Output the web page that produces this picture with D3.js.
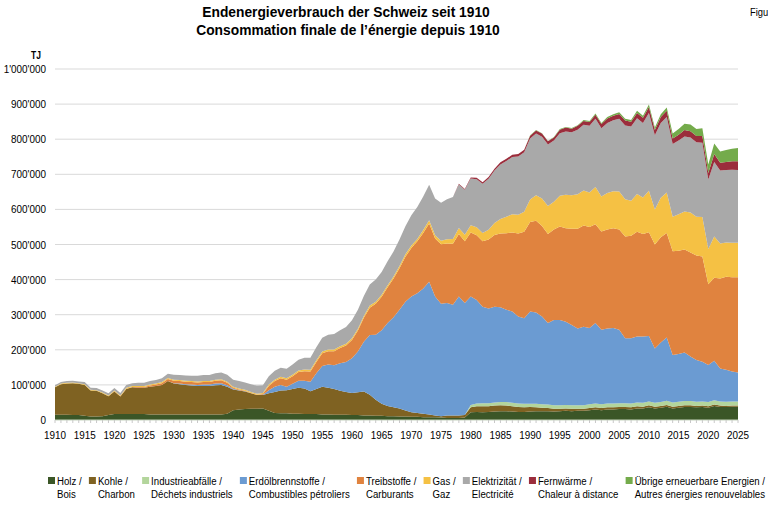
<!DOCTYPE html>
<html>
<head>
<meta charset="utf-8">
<script src="https://cdn.jsdelivr.net/npm/d3@7"></script>
<style>
  body { margin: 0; background: #fff; }
  text { font-family: "Liberation Sans", Arial, sans-serif; }
</style>
</head>
<body>
<div id="chart"></div>
<script>
// years 1910 - 2025, values in 1000 TJ
const years = d3.range(1910, 2026);

const holz = [
  15, 15, 15, 14, 14, 12, 10, 10, 11, 14,
  17, 17, 17, 17, 17, 17, 16, 16, 16, 16,
  16, 16, 16, 16, 16, 16, 16, 16, 16, 18,
  28, 30, 31, 32, 32, 33, 26, 20, 19, 19,
  18, 18, 17, 17, 17, 16, 16, 15, 15, 15,
  14, 14, 13, 13, 12, 12, 11, 11, 10, 10,
  9, 9, 8, 8, 8, 7, 6, 6, 6, 7,
  22, 23, 22, 23, 24, 25, 25, 24, 23, 23,
  24, 25, 25, 25, 24, 25, 26, 25, 26, 26,
  28, 30, 28, 30, 30, 31, 31, 30, 33, 33,
  36, 33, 35, 38, 33, 35, 37, 37, 36, 37,
  35, 40, 37, 37, 38, 38
];
const kohle = [
  78, 87, 89, 91, 89, 88, 74, 73, 65, 54,
  64, 50, 71, 76, 75, 75, 79, 81, 84, 95,
  88, 86, 84, 82, 81, 81, 81, 83, 84, 77,
  59, 54, 50, 44, 39, 38, 50, 60, 65, 66,
  70, 74, 73, 65, 71, 79, 76, 73, 68, 65,
  63, 65, 68, 59, 46, 34, 29, 25, 23, 17,
  13, 11, 10, 8, 5, 4, 7, 7, 7, 7,
  14, 16, 17, 16, 17, 17, 16, 15, 14, 13,
  13, 11, 10, 9, 8, 7, 7, 7, 6, 6,
  6, 6, 6, 6, 6, 6, 6, 6, 6, 5,
  6, 5, 5, 5, 5, 5, 5, 5, 4, 4,
  4, 4, 4, 3, 3, 3
];
const abfall = [
  0, 0, 0, 0, 0, 0, 0, 0, 0, 0,
  0, 0, 0, 0, 0, 0, 0, 0, 0, 0,
  0, 0, 0, 0, 0, 0, 0, 0, 0, 0,
  0, 0, 0, 0, 0, 0, 0, 0, 0, 0,
  0, 0, 0, 0, 0, 0, 0, 0, 0, 0,
  0, 0, 0, 0, 0, 0, 0, 0, 0, 0,
  0, 0, 0, 0, 0, 0, 0, 0, 0, 0,
  7, 8, 9, 9, 9, 9, 10, 10, 10, 10,
  9, 10, 10, 10, 10, 10, 10, 10, 10, 10,
  11, 11, 11, 11, 11, 11, 11, 11, 11, 11,
  11, 11, 11, 12, 12, 12, 12, 12, 12, 12,
  12, 12, 12, 12, 12, 12
];
const oel = [
  0, 0, 0, 0, 0, 0, 0, 0, 0, 0,
  0, 0, 0, 0, 0, 0, 0, 0, 0, 0,
  1, 2, 2, 3, 3, 4, 4, 5, 5, 4,
  2, 1, 1, 0, 0, 1, 9, 15, 16, 10,
  15, 20, 22, 27, 45, 59, 66, 68, 79, 85,
  99, 116, 142, 170, 185, 210, 236, 257, 281, 310,
  330, 341, 357, 378, 339, 320, 320, 315, 339, 319,
  309, 295, 275, 270, 273, 270, 263, 260, 248, 244,
  263, 260, 250, 232, 243, 243, 237, 229, 219, 224,
  217, 229, 212, 214, 215, 209, 185, 186, 188, 189,
  186, 155, 170, 180, 135, 136, 138, 127, 119, 113,
  106, 113, 94, 91, 85, 82
];
const treib = [
  0, 0, 0, 0, 0, 0, 0, 0, 0, 0,
  1, 1, 1, 1, 2, 2, 3, 4, 5, 6,
  7, 7, 7, 7, 7, 7, 7, 8, 8, 7,
  3, 2, 1, 1, 1, 2, 12, 16, 19, 20,
  22, 25, 27, 29, 32, 36, 38, 40, 43, 47,
  52, 60, 68, 78, 88, 95, 102, 110, 118, 128,
  138, 148, 158, 166, 165, 170, 170, 174, 178, 176,
  182, 184, 186, 196, 204, 210, 218, 225, 236, 246,
  255, 262, 258, 254, 258, 266, 266, 274, 284, 288,
  288, 282, 280, 282, 284, 286, 290, 292, 298, 292,
  296, 296, 300, 298, 296, 294, 294, 296, 298, 300,
  230, 236, 256, 265, 269, 272
];
const gas = [
  2, 2, 2, 2, 2, 2, 2, 2, 2, 2,
  2, 2, 3, 3, 3, 3, 3, 3, 3, 3,
  3, 3, 3, 3, 3, 3, 3, 3, 3, 3,
  3, 3, 3, 3, 3, 3, 4, 4, 4, 4,
  4, 4, 5, 5, 5, 5, 5, 5, 5, 5,
  5, 5, 5, 6, 6, 6, 6, 6, 7, 7,
  7, 7, 8, 9, 9, 10, 12, 14, 17, 19,
  21, 23, 24, 28, 34, 42, 47, 52, 54, 57,
  64, 72, 78, 80, 79, 88, 96, 95, 98, 100,
  98, 106, 100, 104, 106, 108, 106, 100, 108, 104,
  118, 100, 112, 115, 98, 104, 108, 114, 110, 112,
  100, 118, 100, 98, 98, 98
];
const elek = [
  4, 4, 5, 5, 5, 6, 6, 6, 6, 6,
  7, 7, 8, 8, 9, 9, 10, 10, 11, 12,
  14, 14, 15, 15, 16, 17, 17, 18, 19, 20,
  20, 21, 21, 22, 23, 22, 24, 25, 26, 27,
  29, 31, 33, 34, 37, 39, 42, 44, 46, 48,
  51, 54, 57, 60, 63, 65, 68, 71, 75, 80,
  86, 91, 96, 101, 105, 108, 114, 119, 124, 128,
  133, 137, 140, 145, 150, 155, 159, 163, 166, 170,
  174, 176, 176, 175, 174, 178, 180, 180, 184, 187,
  190, 194, 194, 199, 202, 207, 210, 211, 216, 212,
  222, 211, 213, 215, 207, 210, 214, 214, 212, 212,
  198, 212, 208, 206, 208, 207
];
const fernw = [
  0, 0, 0, 0, 0, 0, 0, 0, 0, 0,
  0, 0, 0, 0, 0, 0, 0, 0, 0, 0,
  0, 0, 0, 0, 0, 0, 0, 0, 0, 0,
  0, 0, 0, 0, 0, 0, 0, 0, 0, 0,
  0, 0, 0, 0, 0, 0, 0, 0, 0, 0,
  0, 0, 0, 0, 0, 0, 0, 0, 0, 0,
  0, 0, 0, 0, 0, 0, 0, 0, 2, 2,
  3, 4, 4, 5, 5, 6, 6, 7, 7, 7,
  8, 9, 9, 9, 9, 10, 11, 10, 11, 11,
  11, 12, 12, 13, 13, 14, 14, 14, 15, 15,
  17, 15, 17, 18, 16, 17, 18, 18, 18, 19,
  19, 23, 22, 23, 24, 25
];
const uebrige = [
  0, 0, 0, 0, 0, 0, 0, 0, 0, 0,
  0, 0, 0, 0, 0, 0, 0, 0, 0, 0,
  0, 0, 0, 0, 0, 0, 0, 0, 0, 0,
  0, 0, 0, 0, 0, 0, 0, 0, 0, 0,
  0, 0, 0, 0, 0, 0, 0, 0, 0, 0,
  0, 0, 0, 0, 0, 0, 0, 0, 0, 0,
  0, 0, 0, 0, 0, 0, 0, 0, 0, 0,
  0, 0, 0, 0, 0, 0, 0, 0, 0, 0,
  1, 1, 1, 1, 1, 2, 2, 2, 2, 3,
  3, 3, 3, 4, 4, 5, 5, 5, 6, 6,
  7, 7, 8, 9, 14, 16, 18, 19, 20, 22,
  24, 30, 32, 34, 36, 38
];

const seriesKeys = ["holz", "kohle", "abfall", "oel", "treib", "gas", "elek", "fernw", "uebrige"];
const seriesValues = [holz, kohle, abfall, oel, treib, gas, elek, fernw, uebrige];
const labelsDe = ["Holz /", "Kohle /", "Industrieabfälle /", "Erdölbrennstoffe /", "Treibstoffe /",
                  "Gas /", "Elektrizität /", "Fernwärme /", "Übrige erneuerbare Energien /"];
const labelsFr = ["Bois", "Charbon", "Déchets industriels", "Combustibles pétroliers", "Carburants",
                  "Gaz", "Electricité", "Chaleur à distance", "Autres énergies renouvelables"];
const colors = ["#3b5627", "#7f6222", "#b3d59c", "#6b9bd2", "#e0833f",
                "#f5c144", "#a9a9a9", "#9b2d3c", "#74ab4b"];
const yTicks = [0, 100000, 200000, 300000, 400000, 500000, 600000, 700000, 800000, 900000, 1000000];
const xTicks = d3.range(1910, 2026, 5);

const width = 768, height = 512;
const margin = { top: 69, right: 30, bottom: 92, left: 55 };

// table for d3.stack
const rows = years.map((yr, i) => {
  const r = { year: yr };
  seriesKeys.forEach((k, j) => { r[k] = seriesValues[j][i] * 1000; });
  return r;
});

const svg = d3.select("#chart").append("svg")
  .attr("width", width)
  .attr("height", height);

const x = d3.scaleLinear()
  .domain([1910, 2025])
  .range([margin.left, width - margin.right]);

const y = d3.scaleLinear()
  .domain([0, 1000000])
  .range([height - margin.bottom, margin.top]);

const swiss = d3.formatLocale({ decimal: ".", thousands: "'", grouping: [3], currency: ["", ""] });
const fmt = swiss.format(",");

// text squeezed horizontally (the original uses narrow fonts)
function narrow(sel, tx, ty, sx) {
  return sel.attr("x", 0).attr("y", 0)
    .attr("transform", `translate(${tx},${ty}) scale(${sx},1)`);
}

// gridlines
svg.append("g")
  .selectAll("line")
  .data(yTicks.slice(1))
  .enter().append("line")
  .attr("x1", x(1910))
  .attr("x2", x(2025))
  .attr("y1", d => y(d))
  .attr("y2", d => y(d))
  .attr("stroke", "#d9d9d9")
  .attr("stroke-width", 1);

// stacked areas
const stack = d3.stack().keys(seriesKeys);
const layers = stack(rows);

const area = d3.area()
  .x(d => x(d.data.year))
  .y0(d => y(d[0]))
  .y1(d => y(d[1]));

svg.append("g")
  .selectAll("path")
  .data(layers)
  .enter().append("path")
  .attr("d", area)
  .attr("fill", (d, i) => colors[i]);

// x axis
const xAxis = svg.append("g")
  .attr("transform", `translate(0,${y(0)})`);

xAxis.append("line")
  .attr("x1", x(1910))
  .attr("x2", x(2025))
  .attr("stroke", "#c6d3bd");

xAxis.selectAll("line.minor")
  .data(years)
  .enter().append("line")
  .attr("class", "minor")
  .attr("x1", d => x(d))
  .attr("x2", d => x(d))
  .attr("y1", 0)
  .attr("y2", 3)
  .attr("stroke", "#c8c8c8");

xAxis.selectAll("text")
  .data(xTicks)
  .enter().append("text")
  .each(function(d) { narrow(d3.select(this), x(d), 19, 0.9); })
  .attr("text-anchor", "middle")
  .attr("font-size", "11px")
  .attr("fill", "#000")
  .text(d => d);

// y axis labels
svg.append("g")
  .selectAll("text")
  .data(yTicks)
  .enter().append("text")
  .each(function(d) { narrow(d3.select(this), 46, y(d) + 4, 0.9); })
  .attr("text-anchor", "end")
  .attr("font-size", "11px")
  .attr("fill", "#000")
  .text(d => fmt(d));

narrow(svg.append("text"), 36, 59, 0.85)
  .attr("text-anchor", "middle")
  .attr("font-size", "10px")
  .attr("font-weight", "bold")
  .text("TJ");

// titles
narrow(svg.append("text"), 346, 17, 0.92)
  .attr("text-anchor", "middle")
  .attr("font-size", "15px")
  .attr("font-weight", "bold")
  .text("Endenergieverbrauch der Schweiz seit 1910");

narrow(svg.append("text"), 348, 35, 0.92)
  .attr("text-anchor", "middle")
  .attr("font-size", "15px")
  .attr("font-weight", "bold")
  .text("Consommation finale de l\u2019énergie depuis 1910");

narrow(svg.append("text"), 750, 16, 0.85)
  .attr("font-size", "11px")
  .text("Figu");

// legend: measure the labels, then spread the items from x=48 to x=765
const legendScale = 0.84;
const legend = svg.append("g").attr("class", "legend");
const items = seriesKeys.map((k, i) => {
  const g = legend.append("g");
  g.append("rect")
    .attr("x", 0)
    .attr("y", 477)
    .attr("width", 7)
    .attr("height", 7)
    .attr("fill", colors[i]);
  const t1 = narrow(g.append("text"), 9, 485, legendScale)
    .attr("font-size", "11.5px")
    .text(labelsDe[i]);
  const t2 = narrow(g.append("text"), 9, 498, legendScale)
    .attr("font-size", "11.5px")
    .text(labelsFr[i]);
  const w = 9 + legendScale * Math.max(t1.node().getComputedTextLength(), t2.node().getComputedTextLength());
  return { g, w };
});
const gap = (765 - 48 - d3.sum(items, d => d.w)) / (items.length - 1);
let cursor = 48;
items.forEach(it => {
  it.g.attr("transform", `translate(${cursor},0)`);
  cursor += it.w + gap;
});
</script>
</body>
</html>
